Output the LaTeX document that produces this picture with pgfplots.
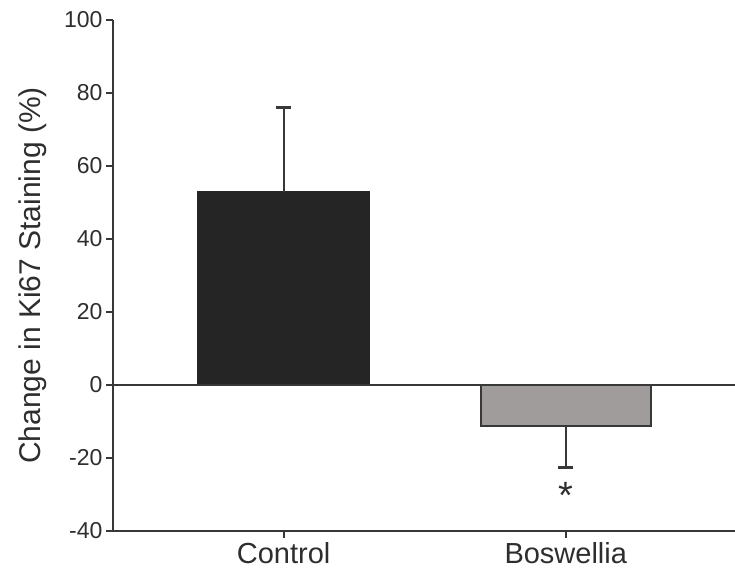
\documentclass[border=0pt]{standalone}
\usepackage{pgfplots}
\pgfplotsset{compat=1.18}
\usepackage{fontspec}
\setmainfont{Liberation Sans}
\definecolor{axgray}{HTML}{383838}
\definecolor{txtgray}{HTML}{2E2E2E}
\definecolor{ctrl}{HTML}{252525}
\definecolor{bosw}{HTML}{A09C9C}
\begin{document}
\begin{tikzpicture}
\begin{axis}[
  scale only axis,
  width=622pt, height=511pt,
  xmin=-0.605, xmax=1.6,
  ymin=-40, ymax=100,
  axis x line*=bottom, axis y line*=left,
  axis line style={axgray, line width=2.2pt},
  xtick={0,1}, xticklabels={Control,Boswellia},
  ytick={-40,-20,0,20,40,60,80,100},
  tick align=outside,
  major tick length=7pt,
  tick style={axgray, line width=2.2pt},
  /pgf/number format/assume math mode=true,
  yticklabel style={font=\fontsize{23}{27}\selectfont, text=txtgray, xshift=0pt},
  xticklabel style={font=\fontsize{29}{34}\selectfont, text=txtgray, yshift=-1pt},
  ylabel={Change in Ki67 Staining (\%)},
  ylabel style={font=\fontsize{30}{36}\selectfont, text=txtgray, yshift=10pt},
  clip=false,
]
\addplot[ybar, bar width=172pt, bar shift=0pt, fill=ctrl, draw=ctrl, line width=1pt,
  error bars/.cd, y dir=plus, y explicit,
  error bar style={axgray, line width=2.2pt},
  error mark options={rotate=90, mark size=7.5pt, line width=2.2pt, axgray}]
  coordinates {(0,53) += (0,23) -= (0,0)};
\addplot[ybar, bar width=170pt, bar shift=0pt, fill=bosw, draw=axgray, line width=2.2pt,
  error bars/.cd, y dir=minus, y explicit,
  error bar style={axgray, line width=2.2pt},
  error mark options={rotate=90, mark size=7.5pt, line width=2.2pt, axgray}]
  coordinates {(1,-11.2) += (0,0) -= (0,11.4)};
\draw[axgray, line width=2pt] (axis cs:-0.605,0) -- (axis cs:1.6,0);
\node[font=\fontsize{38}{44}\selectfont, text=txtgray] at (axis cs:1,-30.2) {*};
\end{axis}
\pgfresetboundingbox
\path[use as bounding box] (-113pt,-44pt) rectangle (622pt,531pt);
\end{tikzpicture}
\end{document}
